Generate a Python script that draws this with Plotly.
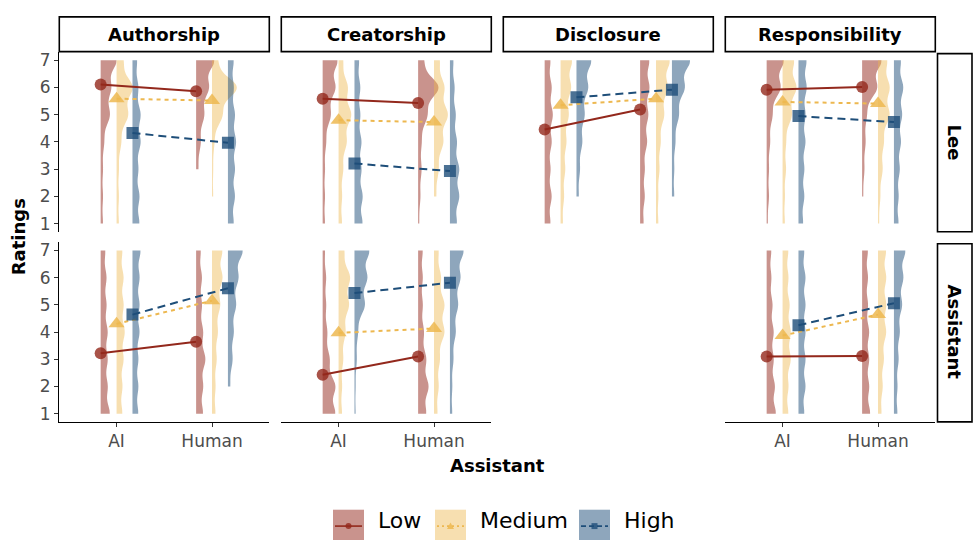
import numpy as np
import plotly.graph_objects as go

# ---------------- data ----------------
facets = ["Authorship", "Creatorship", "Disclosure", "Responsibility"]
raters = ["Lee", "Assistant"]
assistants = ["AI", "Human"]
groups = ["Low", "Medium", "High"]
ratings = [1, 2, 3, 4, 5, 6, 7]
y_ticks = [1, 2, 3, 4, 5, 6, 7]

# rating counts (ratings 1..7) per group: (AI, Human), estimated from violin shapes
counts_authorship_lee = {
    "Low": ([2, 2, 2, 3, 8, 9, 14], [0, 0, 2, 4, 7, 11, 16]),
    "Medium": ([2, 2, 2, 4, 10, 14, 6], [0, 1, 1, 2, 9, 22, 5]),
    "High": ([6, 6, 5, 7, 7, 5, 4], [5, 6, 6, 7, 6, 5, 5]),
}
counts_authorship_assistant = {
    "Low": ([8, 6, 6, 6, 5, 5, 4], [6, 6, 8, 6, 5, 5, 4]),
    "Medium": ([5, 5, 6, 7, 6, 6, 5], [3, 3, 4, 5, 7, 9, 9]),
    "High": ([5, 5, 5, 6, 6, 6, 7], [0, 2, 4, 5, 7, 9, 13]),
}
counts_creatorship_lee = {
    "Low": ([2, 2, 2, 3, 7, 11, 13], [1, 2, 3, 3, 8, 18, 5]),
    "Medium": ([3, 3, 4, 7, 11, 8, 4], [0, 2, 4, 8, 12, 9, 5]),
    "High": ([7, 7, 6, 6, 5, 5, 4], [6, 8, 8, 6, 5, 4, 3]),
}
counts_creatorship_assistant = {
    "Low": ([11, 11, 6, 4, 3, 3, 2], [7, 9, 7, 5, 4, 4, 4]),
    "Medium": ([3, 3, 4, 6, 9, 10, 5], [3, 4, 5, 9, 9, 6, 4]),
    "High": ([1, 1, 2, 3, 9, 11, 13], [2, 2, 3, 5, 7, 9, 12]),
}
counts_disclosure_lee = {
    "Low": ([5, 6, 5, 6, 7, 6, 5], [3, 4, 4, 6, 7, 8, 8]),
    "Medium": ([2, 3, 4, 5, 7, 9, 10], [2, 2, 3, 4, 7, 10, 12]),
    "High": ([0, 2, 3, 5, 7, 10, 13], [0, 2, 2, 3, 6, 11, 16]),
}
counts_responsibility_lee = {
    "Low": ([1, 2, 2, 3, 5, 12, 15], [0, 1, 2, 3, 4, 13, 17]),
    "Medium": ([2, 2, 3, 3, 8, 12, 10], [1, 2, 4, 5, 10, 10, 8]),
    "High": ([4, 5, 5, 6, 6, 7, 7], [4, 4, 5, 6, 7, 8, 6]),
}
counts_responsibility_assistant = {
    "Low": ([8, 7, 6, 6, 5, 4, 4], [7, 6, 6, 6, 5, 5, 5]),
    "Medium": ([5, 5, 7, 7, 6, 5, 5], [3, 4, 5, 7, 7, 7, 7]),
    "High": ([5, 6, 6, 6, 6, 6, 5], [3, 3, 4, 5, 7, 8, 10]),
}

# mean ratings per group: [AI, Human]
means_authorship_lee = {"Low": [6.11, 5.86], "Medium": [5.59, 5.52], "High": [4.33, 3.97]}
means_authorship_assistant = {"Low": [3.22, 3.64], "Medium": [4.30, 5.15], "High": [4.64, 5.61]}
means_creatorship_lee = {"Low": [5.59, 5.43], "Medium": [4.80, 4.73], "High": [3.21, 2.93]}
means_creatorship_assistant = {"Low": [2.43, 3.10], "Medium": [3.97, 4.13], "High": [5.43, 5.81]}
means_disclosure_lee = {"Low": [4.46, 5.19], "Medium": [5.35, 5.59], "High": [5.64, 5.92]}
means_responsibility_lee = {"Low": [5.92, 6.02], "Medium": [5.47, 5.41], "High": [4.95, 4.73]}
means_responsibility_assistant = {"Low": [3.10, 3.12], "Medium": [3.87, 4.64], "High": [4.25, 5.06]}

panel_data = {
    ("Authorship", "Lee"): (counts_authorship_lee, means_authorship_lee),
    ("Authorship", "Assistant"): (counts_authorship_assistant, means_authorship_assistant),
    ("Creatorship", "Lee"): (counts_creatorship_lee, means_creatorship_lee),
    ("Creatorship", "Assistant"): (counts_creatorship_assistant, means_creatorship_assistant),
    ("Disclosure", "Lee"): (counts_disclosure_lee, means_disclosure_lee),
    ("Responsibility", "Lee"): (counts_responsibility_lee, means_responsibility_lee),
    ("Responsibility", "Assistant"): (counts_responsibility_assistant, means_responsibility_assistant),
}

# ---------------- style ----------------
W, H = 973, 540
FONT = "DejaVu Sans"
BW = 0.38            # KDE bandwidth
MAX_WIDTH = 0.52     # full violin width (x units) for the densest violin
line_colors = {"Low": "#93281C", "Medium": "#EDB850", "High": "#1E4E79"}
fill_colors = {"Low": "rgba(147,40,28,0.5)", "Medium": "rgba(237,184,80,0.45)", "High": "rgba(30,78,121,0.5)"}
marker_colors = {"Low": "rgba(147,40,28,0.8)", "Medium": "rgba(237,184,80,0.85)", "High": "rgba(30,78,121,0.8)"}
dashes = {"Low": "solid", "Medium": "4px,4px", "High": "8px,5px"}
symbols = {"Low": "circle", "Medium": "triangle-up", "High": "square"}
msizes = {"Low": 12, "Medium": 14, "High": 12}
dodge = {"Low": -1 / 6, "Medium": 0.0, "High": 1 / 6}

col_left = [59.3, 281.3, 503.3, 725.3]
col_w = 210.0
row_top = [50.5, 242.0]
row_h = 181.0


def px(x):
    return x / W


def py(y):
    return 1 - y / H


def kde_peak(samples):
    grid = np.linspace(samples.min(), samples.max(), 400)
    z = (grid[:, None] - samples[None, :]) / BW
    dens = np.exp(-0.5 * z ** 2).sum(axis=1) / (len(samples) * BW * np.sqrt(2 * np.pi))
    return dens.max()


# collect violins; scale widths so equal density -> equal pixel width (equal-area violins)
violins = []
for ri, rater in enumerate(raters):
    for ci, facet in enumerate(facets):
        if (facet, rater) not in panel_data:
            continue
        counts, means = panel_data[(facet, rater)]
        for g in groups:
            for ai, a in enumerate(assistants):
                samples = np.repeat(ratings, counts[g][ai]).astype(float)
                violins.append((ri, ci, g, ai, a, samples, kde_peak(samples)))
global_peak = max(v[6] for v in violins)

fig = go.Figure()

for ri, ci, g, ai, a, samples, peak in violins:
    k = ri * 4 + ci + 1
    xa = "x" if k == 1 else f"x{k}"
    ya = "y" if k == 1 else f"y{k}"
    fig.add_trace(go.Violin(
        y=samples, x0=ai + 1 + dodge[g], xaxis=xa, yaxis=ya,
        side="positive", width=MAX_WIDTH * peak / global_peak, scalemode="width",
        spanmode="hard", bandwidth=BW, fillcolor=fill_colors[g],
        line=dict(width=0, color="rgba(0,0,0,0)"), points=False,
        box_visible=False, meanline_visible=False, showlegend=False,
        hoverinfo="skip", name=f"{facets[ci]} {raters[ri]} {a} {g}",
    ))

# means with connecting lines
for ri, rater in enumerate(raters):
    for ci, facet in enumerate(facets):
        k = ri * 4 + ci + 1
        xa = "x" if k == 1 else f"x{k}"
        ya = "y" if k == 1 else f"y{k}"
        if (facet, rater) not in panel_data:
            continue
        counts, means = panel_data[(facet, rater)]
        for g in groups:
            fig.add_trace(go.Scatter(
                x=[i + 1 + dodge[g] for i in range(len(assistants))], y=means[g],
                xaxis=xa, yaxis=ya, mode="lines+markers",
                line=dict(color=line_colors[g], width=2, dash=dashes[g]),
                marker=dict(symbol=symbols[g], size=msizes[g], color=marker_colors[g], line=dict(width=0)),
                showlegend=False, name=g,
            ))

layout = dict(
    width=W, height=H, margin=dict(l=0, r=0, t=0, b=0),
    paper_bgcolor="white", plot_bgcolor="white",
    font=dict(family=FONT, color="#000"), violinmode="overlay",
    showlegend=False,
)

for ri in range(2):
    for ci in range(4):
        k = ri * 4 + ci + 1
        xk = "xaxis" if k == 1 else f"xaxis{k}"
        yk = "yaxis" if k == 1 else f"yaxis{k}"
        ya_name = "y" if k == 1 else f"y{k}"
        xa_name = "x" if k == 1 else f"x{k}"
        bottom = ri == 1
        layout[xk] = dict(
            domain=[px(col_left[ci]), px(col_left[ci] + col_w)], anchor=ya_name,
            range=[0.4, 2.6], type="linear", showgrid=False, zeroline=False,
            showline=bottom, linecolor="#000", linewidth=1.4,
            ticks="outside" if bottom else "", ticklen=4, tickwidth=1.2, tickcolor="#333",
            tickvals=[1, 2], ticktext=assistants, showticklabels=bottom,
            tickfont=dict(family=FONT, size=17, color="#4D4D4D"), fixedrange=True,
        )
        left = ci == 0
        layout[yk] = dict(
            domain=[py(row_top[ri] + row_h), py(row_top[ri])], anchor=xa_name,
            range=[0.7, 7.3], showgrid=False, zeroline=False,
            showline=left, linecolor="#000", linewidth=1.4,
            ticks="outside" if left else "", ticklen=4, tickwidth=1.2, tickcolor="#333",
            tickvals=y_ticks, showticklabels=left,
            tickfont=dict(family=FONT, size=17, color="#4D4D4D"), fixedrange=True,
        )

shapes = []
annotations = []
# top strips
for ci, facet in enumerate(facets):
    shapes.append(dict(type="rect", xref="paper", yref="paper",
                       x0=px(col_left[ci]), x1=px(col_left[ci] + col_w), y0=py(50), y1=py(15),
                       line=dict(color="#000", width=1.6), fillcolor="white", layer="below"))
    annotations.append(dict(text=f"<b>{facet}</b>", xref="paper", yref="paper",
                            x=px(col_left[ci] + col_w / 2), y=py(32.5), showarrow=False,
                            xanchor="center", yanchor="middle", font=dict(size=18, family=FONT, color="#000")))
# right strips
for ri, rater in enumerate(raters):
    shapes.append(dict(type="rect", xref="paper", yref="paper",
                       x0=px(937.5), x1=px(972), y0=py(row_top[ri] + row_h), y1=py(row_top[ri] + 1.5),
                       line=dict(color="#000", width=1.6), fillcolor="white", layer="below"))
    annotations.append(dict(text=f"<b>{rater}</b>", xref="paper", yref="paper",
                            x=px(954.5), y=py(row_top[ri] + row_h / 2), showarrow=False, textangle=90,
                            xanchor="center", yanchor="middle", font=dict(size=18, family=FONT, color="#000")))

# axis titles
annotations.append(dict(text="<b>Ratings</b>", xref="paper", yref="paper", x=px(18), y=py(237),
                        showarrow=False, textangle=-90, xanchor="center", yanchor="middle",
                        font=dict(size=18, family=FONT, color="#000")))
annotations.append(dict(text="<b>Assistant</b>", xref="paper", yref="paper", x=px(497), y=py(467),
                        showarrow=False, xanchor="center", yanchor="middle",
                        font=dict(size=18, family=FONT, color="#000")))

# manual legend
key_left = {"Low": 333, "Medium": 435, "High": 579}
key_size = 31
key_top = 511.5
for g in groups:
    x0 = key_left[g]
    cx = x0 + key_size / 2
    cy = key_top + key_size / 2 + 1
    shapes.append(dict(type="rect", xref="paper", yref="paper", x0=px(x0), x1=px(x0 + key_size),
                       y0=py(key_top + key_size), y1=py(key_top), line=dict(width=0),
                       fillcolor=fill_colors[g]))
    shapes.append(dict(type="line", xref="paper", yref="paper", x0=px(x0 + 2), x1=px(x0 + key_size - 2),
                       y0=py(cy), y1=py(cy),
                       line=dict(color=line_colors[g], width=1.6,
                                 dash="solid" if g == "Low" else ("2px,3px" if g == "Medium" else "5px,3px"))))
    if g == "Low":
        shapes.append(dict(type="circle", xref="paper", yref="paper", x0=px(cx - 3), x1=px(cx + 3),
                           y0=py(cy + 3), y1=py(cy - 3), line=dict(width=0), fillcolor=marker_colors[g]))
    elif g == "Medium":
        path = (f"M {px(cx - 3.5)} {py(cy + 3)} L {px(cx + 3.5)} {py(cy + 3)} "
                f"L {px(cx)} {py(cy - 3.5)} Z")
        shapes.append(dict(type="path", xref="paper", yref="paper", path=path,
                           line=dict(width=0), fillcolor=marker_colors[g]))
    else:
        shapes.append(dict(type="rect", xref="paper", yref="paper", x0=px(cx - 3), x1=px(cx + 3),
                           y0=py(cy + 3), y1=py(cy - 3), line=dict(width=0), fillcolor=marker_colors[g]))
    annotations.append(dict(text=g, xref="paper", yref="paper", x=px(x0 + key_size + 12), y=py(522),
                            showarrow=False, xanchor="left", yanchor="middle",
                            font=dict(size=22, family=FONT, color="#000")))

layout["shapes"] = shapes
layout["annotations"] = annotations
fig.update_layout(**layout)

fig.write_html("out.html", config={"displayModeBar": False},
               post_script="document.body.style.margin='0';document.body.style.overflow='hidden';")
